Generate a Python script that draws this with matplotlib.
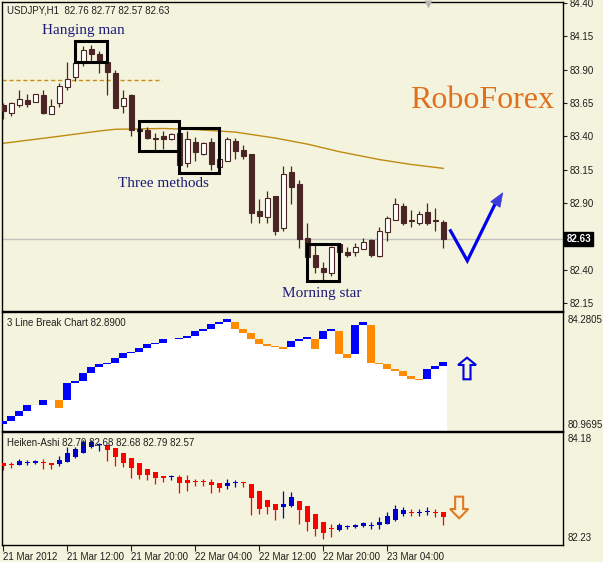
import matplotlib
matplotlib.use('Agg')
import matplotlib.pyplot as plt
import matplotlib.transforms as mtransforms
from matplotlib.patches import Rectangle, Polygon

plt.rcParams['font.family'] = ['Liberation Sans', 'DejaVu Sans']

# ---- USDJPY H1 candles (bar 0 = 21 Mar 04:00)
opens = [83.635, 83.575, 83.635, 83.67, 83.66, 83.71, 83.57, 83.65,
         83.77, 83.845, 83.95, 84.055, 84.017, 83.954, 83.877, 83.627,
         83.71, 83.455, 83.447, 83.384, 83.40, 83.382, 83.427, 83.20,
         83.36, 83.27, 83.355, 83.172, 83.217, 83.365, 83.30, 83.267,
         82.84, 82.797, 82.952, 82.71, 83.135, 83.042, 82.635, 82.51,
         82.41, 82.377, 82.59, 82.53, 82.53, 82.555, 82.622, 82.505,
         82.68, 82.772, 82.877, 82.769, 82.752, 82.832, 82.77, 82.757]
highs = [83.65, 83.655, 83.75, 83.72, 83.72, 83.745, 83.68, 83.80,
         83.96, 83.96, 84.08, 84.085, 84.04, 83.957, 83.90, 83.747,
         83.72, 83.51, 83.47, 83.425, 83.44, 83.425, 83.44, 83.442,
         83.395, 83.36, 83.385, 83.23, 83.397, 83.385, 83.335, 83.267,
         82.928, 82.99, 82.952, 83.177, 83.177, 83.072, 82.752, 82.585,
         82.455, 82.577, 82.602, 82.567, 82.597, 82.635, 82.63, 82.717,
         82.805, 82.94, 82.902, 82.847, 82.84, 82.902, 82.86, 82.77]
lows = [83.53, 83.55, 83.62, 83.62, 83.655, 83.565, 83.57, 83.62,
        83.75, 83.815, 83.93, 83.96, 83.875, 83.71, 83.61, 83.575,
        83.40, 83.395, 83.38, 83.30, 83.305, 83.37, 83.185, 83.172,
        83.217, 83.26, 83.147, 83.17, 83.217, 83.227, 83.227, 82.75,
        82.752, 82.75, 82.66, 82.692, 82.892, 82.56, 82.497, 82.377,
        82.317, 82.352, 82.535, 82.497, 82.503, 82.555, 82.497, 82.497,
        82.617, 82.772, 82.735, 82.722, 82.735, 82.735, 82.692, 82.565]
closes = [83.59, 83.65, 83.68, 83.645, 83.715, 83.575, 83.63, 83.78,
          83.83, 83.95, 84.05, 84.02, 83.96, 83.885, 83.615, 83.69,
          83.447, 83.44, 83.387, 83.38, 83.38, 83.418, 83.185, 83.377,
          83.285, 83.348, 83.19, 83.227, 83.377, 83.292, 83.255, 82.827,
          82.805, 82.935, 82.692, 83.115, 83.022, 82.628, 82.497, 82.418,
          82.385, 82.572, 82.535, 82.51, 82.567, 82.605, 82.51, 82.69,
          82.785, 82.89, 82.752, 82.765, 82.815, 82.752, 82.765, 82.63]

ma_bar = [0, 6, 12, 14, 20, 24, 29, 34, 38, 42, 47, 51, 55]
ma_val = [83.348, 83.393, 83.44, 83.453, 83.459, 83.451, 83.432, 83.387,
          83.342, 83.285, 83.226, 83.189, 83.16]
hline_level = 83.8225
last_price = 82.63

# ---- 3 Line Break
lb_hi = [81.07, 81.232, 81.39, 81.58, 81.58, 81.736, 81.736, 81.736,
         82.281, 82.344, 82.597, 82.786, 82.871, 82.912, 83.07, 83.227,
         83.259, 83.385, 83.511, 83.543, 83.659, 83.659, 83.70, 83.763,
         83.91, 83.975, 84.132, 84.195, 84.29, 84.195, 83.965, 83.858,
         83.669, 83.511, 83.448, 83.416, 83.606, 83.669, 83.732, 83.669,
         83.921, 83.975, 83.921, 83.196, 84.101, 84.186, 84.101, 82.893,
         82.862, 82.723, 82.65, 82.502, 82.408, 82.713, 82.817, 82.934]
lb_lo = [80.97, 81.074, 81.232, 81.39, 81.58, 81.58, 81.736, 81.493,
         81.736, 82.281, 82.344, 82.597, 82.786, 82.871, 82.912, 83.07,
         83.227, 83.259, 83.385, 83.511, 83.543, 83.659, 83.659, 83.70,
         83.763, 83.91, 83.975, 84.132, 84.205, 83.965, 83.858, 83.669,
         83.511, 83.448, 83.416, 83.353, 83.416, 83.606, 83.669, 83.353,
         83.669, 83.921, 83.196, 83.07, 83.196, 84.101, 82.893, 82.862,
         82.723, 82.65, 82.502, 82.408, 82.376, 82.408, 82.713, 82.817]
lb_dir = "uuuu-u-d" "uuuuuuuu" "uuuuu-uu" "uuuuuddd" "dddduuud" "uudduudd" "ddddduuu"

# ---- Heiken-Ashi
ha_o = [83.688, 83.674, 83.66, 83.688, 83.694, 83.707, 83.688, 83.668,
        83.719, 83.817, 83.896, 84.003, 84.048, 84.048, 83.983, 83.885,
        83.786, 83.688, 83.569, 83.51, 83.437, 83.408, 83.412, 83.359,
        83.333, 83.333, 83.319, 83.293, 83.246, 83.293, 83.313, 83.28,
        83.142, 82.965, 82.886, 82.833, 82.846, 82.951, 82.846, 82.689,
        82.525, 82.413, 82.374, 82.423, 82.427, 82.452, 82.456, 82.472,
        82.492, 82.571, 82.683, 82.728, 82.713, 82.734, 82.728, 82.722]
ha_c = [83.64, 83.66, 83.727, 83.707, 83.733, 83.688, 83.66, 83.753,
        83.885, 83.969, 84.101, 84.113, 84.068, 83.95, 83.817, 83.70,
        83.601, 83.457, 83.457, 83.392, 83.392, 83.422, 83.305, 83.305,
        83.319, 83.323, 83.266, 83.207, 83.305, 83.313, 83.299, 83.004,
        82.787, 82.833, 82.768, 82.886, 83.018, 82.768, 82.525, 82.387,
        82.309, 82.387, 82.472, 82.433, 82.472, 82.517, 82.466, 82.537,
        82.649, 82.781, 82.768, 82.714, 82.722, 82.748, 82.714, 82.624]
ha_h = [83.70, 83.707, 83.766, 83.753, 83.753, 83.766, 83.70, 83.831,
        84.003, 84.015, 84.147, 84.147, 84.093, 84.048, 83.983, 83.885,
        83.786, 83.688, 83.569, 83.51, 83.437, 83.457, 83.457, 83.457,
        83.378, 83.372, 83.378, 83.293, 83.378, 83.359, 83.325, 83.28,
        83.142, 82.965, 82.886, 83.142, 83.122, 82.951, 82.846, 82.689,
        82.525, 82.486, 82.506, 82.472, 82.492, 82.537, 82.525, 82.624,
        82.734, 82.866, 82.833, 82.781, 82.781, 82.821, 82.787, 82.722]
ha_l = [83.556, 83.589, 83.648, 83.648, 83.674, 83.581, 83.581, 83.64,
        83.707, 83.798, 83.885, 83.983, 83.936, 83.739, 83.64, 83.609,
        83.404, 83.372, 83.359, 83.274, 83.325, 83.359, 83.097, 83.148,
        83.246, 83.246, 83.097, 83.128, 83.187, 83.215, 83.226, 82.669,
        82.683, 82.683, 82.571, 82.616, 82.821, 82.486, 82.36, 82.255,
        82.19, 82.242, 82.36, 82.387, 82.419, 82.438, 82.387, 82.387,
        82.486, 82.557, 82.649, 82.649, 82.649, 82.669, 82.624, 82.472]

time_ticks = [0, 8, 16, 24, 32, 40, 48]
time_labels = ['21 Mar 2012', '21 Mar 12:00', '21 Mar 20:00', '22 Mar 04:00',
               '22 Mar 12:00', '22 Mar 20:00', '23 Mar 04:00']
price_ticks = [84.40, 84.15, 83.90, 83.65, 83.40, 83.15, 82.90, 82.65, 82.40, 82.15]

BG = '#F4F4DE'
DARK = '#4B2525'
TXT = '#1E1E1E'
W, H = 603, 562
XL = (-0.1625, 69.96)
bars = list(range(len(opens)))

fig = plt.figure(figsize=(W / 100, H / 100), dpi=100, facecolor=BG)


def panel(top, bottom):
    a = fig.add_axes([2 / W, 1 - bottom / H, 561 / W, (bottom - top) / H])
    a.set_facecolor(BG)
    a.set_xlim(*XL)
    for s in a.spines.values():
        s.set_color('black')
        s.set_linewidth(1.0)
    a.yaxis.tick_right()
    a.tick_params(axis='y', direction='out', length=3, width=0.8, pad=2,
                  labelsize=7, colors=TXT)
    a.tick_params(axis='x', bottom=False, labelbottom=False)
    return a


# ================= main price panel
ax = panel(2, 310.5)
ax.set_ylim(82.094, 84.4075)
ax.set_yticks(price_ticks)
# the 82.65 label sits under the current-price box, so it is left blank
ax.set_yticklabels(['' if abs(p - 82.65) < 1e-6 else '%.2f' % p
                    for p in price_ticks])

ax.axhline(last_price, color='#C0C0C0', lw=1.0, zorder=1)
ax.plot([XL[0], 19.8], [hline_level, hline_level], color='#D08C10', lw=1.0,
        dashes=(3, 2), zorder=1)
ax.plot(ma_bar, ma_val, color='#C08A10', lw=1.0, zorder=2)

ax.vlines(bars, lows, highs, color=DARK, lw=0.9, zorder=3)
for i in bars:
    o, c = opens[i], closes[i]
    bot = min(o, c)
    hgt = max(abs(c - o), 0.008)
    fc = 'white' if c > o else DARK
    ax.bar(i, hgt, bottom=bot, width=0.6, facecolor=fc, edgecolor=DARK,
           lw=0.8, zorder=4)

# pattern boxes
boxes = [(8.96, 83.96, 4.04, 0.157), (16.96, 83.29, 5.04, 0.227),
         (22.0, 83.127, 5.0, 0.333), (37.9, 82.317, 4.1, 0.275)]
for bx, by, bw, bh in boxes:
    ax.add_patch(Rectangle((bx, by), bw, bh, fill=False, ec='black', lw=2.2,
                           zorder=5))

serif = ['Liberation Serif', 'DejaVu Serif']
ax.text(9.96, 84.1975, 'Hanging man', family=serif, fontsize=11,
        color='#1E1A78', ha='center', va='center')
ax.text(19.96, 83.05, 'Three methods', family=serif, fontsize=11,
        color='#1E1A78', ha='center', va='center')
ax.text(39.84, 82.225, 'Morning star', family=serif, fontsize=11,
        color='#1E1A78', ha='center', va='center')
ax.text(59.84, 83.6725, 'RoboForex', family=serif, fontsize=23,
        color='#E0701E', ha='center', va='center')

# forecast check mark
ax.plot([55.9, 58.0, 61.45], [82.692, 82.467, 82.89], color='#0000EE',
        lw=2.3, solid_joinstyle='miter', zorder=6)
ax.add_patch(Polygon([(60.92, 82.91), (62.43, 82.977), (62.09, 82.868)],
                     closed=True, fc='#3C3CDC', ec='#3C3CDC', lw=0.5, zorder=6))

# shift marker at top
ax.plot([53.05], [84.39], marker='v', ms=6, color='#B4B4B4', mec='none',
        clip_on=False, zorder=6)

trans = mtransforms.blended_transform_factory(ax.transAxes, ax.transData)
ax.text(1.006, last_price, '%.2f' % last_price, transform=trans, ha='left',
        va='center', fontsize=7, color='white', fontweight='bold',
        bbox=dict(boxstyle='square,pad=0.2', fc='black', ec='black'),
        zorder=10, clip_on=False)

fig.text(7 / W, 1 - 10.5 / H, 'USDJPY,H1  82.76 82.77 82.57 82.63',
         fontsize=7, color=TXT, va='center', ha='left')

# ================= 3 line break panel
ax2 = panel(312, 430.5)
lb_bottom = 80.774
ax2.set_ylim(lb_bottom, 84.511)
ax2.set_yticks([84.2805, 80.9695])
ax2.set_yticklabels(['84.2805', '80.9695'])
ax2.tick_params(axis='y', length=0, pad=3)
ax2.bar(bars, [lo - lb_bottom for lo in lb_lo], bottom=lb_bottom, width=1.0,
        color='white', lw=0, zorder=2)
for i in bars:
    d = lb_dir[i]
    if d == '-':
        continue
    col = '#0000FF' if d == 'u' else '#FF8C00'
    ax2.bar(i, lb_hi[i] - lb_lo[i], bottom=lb_lo[i], width=1.0, color=col,
            lw=0, zorder=3)

up_arrow = [(57.96, 83.07), (59.09, 82.84), (58.40, 82.84), (58.40, 82.389),
            (57.52, 82.389), (57.52, 82.84), (56.84, 82.84)]
ax2.add_patch(Polygon(up_arrow, closed=True, fill=False, ec='#0000E0', lw=1.5,
                      zorder=4))
fig.text(7 / W, 1 - 322.7 / H, '3 Line Break Chart 82.8900', fontsize=7,
         color=TXT, va='center', ha='left')

# ================= Heiken-Ashi panel
ax3 = panel(432, 545)
ax3.set_ylim(82.078, 84.304)
ax3.set_yticks([84.18, 82.23])
ax3.set_yticklabels(['84.18', '82.23'])
ax3.tick_params(axis='y', length=0, pad=3)
for i in bars:
    col = '#FF0000' if ha_o[i] > ha_c[i] else '#0000CC'
    ax3.vlines(i, ha_l[i], ha_h[i], color=col, lw=0.9, zorder=2)
    bot = min(ha_o[i], ha_c[i])
    hgt = max(abs(ha_c[i] - ha_o[i]), 0.02)
    ax3.bar(i, hgt, bottom=bot, width=0.65, color=col, lw=0, zorder=3)

down_arrow = [(56.48, 83.03), (57.48, 83.03), (57.48, 82.787), (58.12, 82.787),
              (56.98, 82.604), (55.84, 82.787), (56.48, 82.787)]
ax3.add_patch(Polygon(down_arrow, closed=True, fill=False, ec='#E07A20',
                      lw=1.5, zorder=4))
fig.text(7 / W, 1 - 442.7 / H, 'Heiken-Ashi 82.79 82.68 82.68 82.79 82.57',
         fontsize=7, color=TXT, va='center', ha='left')

ax3.tick_params(axis='x', bottom=True, labelbottom=True, direction='out',
                length=4, width=0.8, pad=1, labelsize=7, colors=TXT)
ax3.set_xticks(time_ticks)
ax3.set_xticklabels(time_labels, ha='left')

fig.savefig('out.png', dpi=100, facecolor=BG)
